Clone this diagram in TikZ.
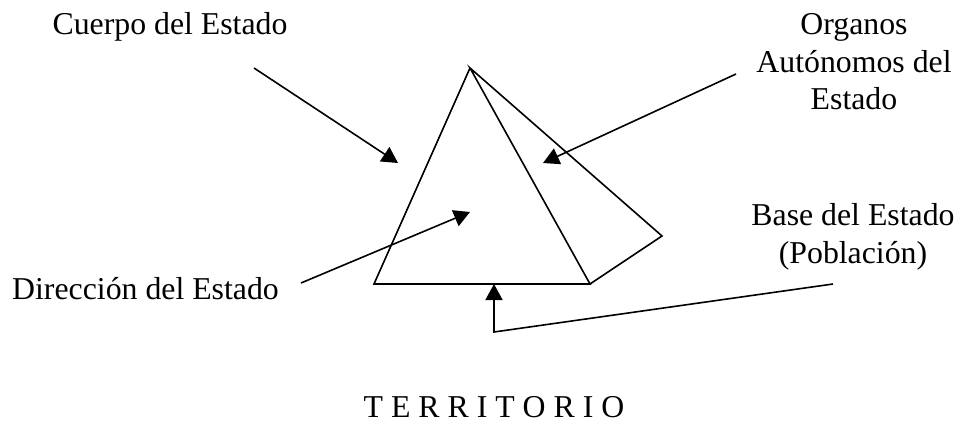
\documentclass[tikz,border=0pt]{standalone}
\usepackage{fontspec}
\setmainfont{Liberation Serif}
\usetikzlibrary{arrows.meta}
\tikzset{
  etiqueta/.style={font=\fontsize{31.8}{37.6}\selectfont,align=center,inner sep=0pt,text=black},
  flecha/.style={-{Stealth[length=16pt,width=17pt,inset=0pt]},line width=1.6pt},
  arista/.style={line width=1.6pt,line join=miter}
}
\begin{document}
\begin{tikzpicture}[x=1pt,y=-1pt]
    \useasboundingbox (0,0) rectangle (960,423);

    % piramide
    \coordinate (cima) at (470,68);
    \coordinate (izq) at (374,284);
    \coordinate (der) at (590,284);
    \coordinate (fondo) at (662,236);
    \draw[arista] (cima) -- (izq) -- (der) -- (cima) -- (fondo) -- (der);

    % textos
    \node[etiqueta] (cuerpo) at (170,27){Cuerpo del Estado};
    \node[etiqueta] (organos) at (854,62){Organos\\Autónomos del\\Estado};
    \node[etiqueta] (base) at (853,237){Base del Estado\\(Población)};
    \node[etiqueta] (direccion) at (145.5,289){Dirección del Estado};
    \node[etiqueta] (territorio) at (494,407.5){T E R R I T O R I O};

    % flechas
    \coordinate (c1) at (254,68);
    \coordinate (c2) at (398,163);
    \coordinate (o1) at (736,74);
    \coordinate (o2) at (543,163);
    \coordinate (d1) at (301,283);
    \coordinate (d2) at (470,212);
    \coordinate (b1) at (833,284);
    \coordinate (b2) at (494,332);
    \coordinate (b3) at (494,284);
    \draw[flecha] (c1) -- (c2);
    \draw[flecha] (o1) -- (o2);
    \draw[flecha] (d1) -- (d2);
    \draw[flecha] (b1) -- (b2) -- (b3);

\end{tikzpicture}
\end{document}
